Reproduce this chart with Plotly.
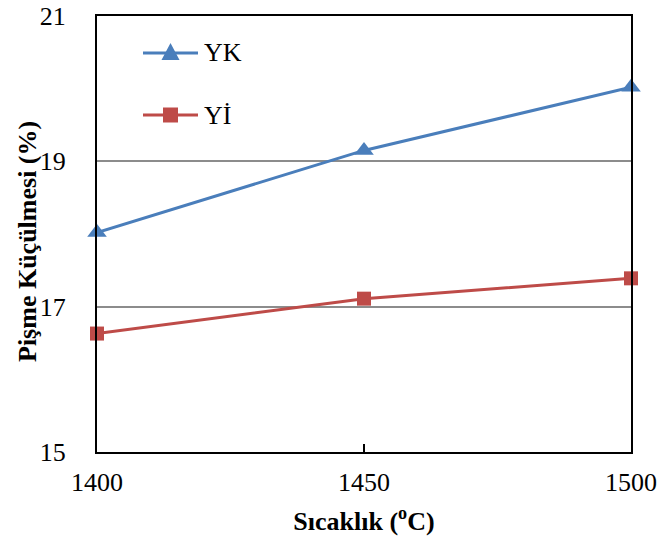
import plotly.graph_objects as go

# Firing temperature (°C) and firing shrinkage (%) for two body types
temperatures = [1400, 1450, 1500]
yk_shrinkage = [18.02, 19.15, 20.02]
yi_shrinkage = [16.63, 17.11, 17.39]
series_names = ["YK", "Yİ"]

x_ticks = [1400, 1450, 1500]
y_ticks = [15, 17, 19, 21]

FONT = "Liberation Serif, Times New Roman, serif"
BLUE = "#4a7ebb"
RED = "#be4b48"

W, H = 660, 540
M = dict(l=97, r=29, t=16, b=88)
PW = W - M["l"] - M["r"]
PH = H - M["t"] - M["b"]

fig = go.Figure()
fig.add_trace(go.Scatter(
    x=temperatures, y=yk_shrinkage, name=series_names[0],
    mode="lines+markers", cliponaxis=False, showlegend=False,
    line=dict(color=BLUE, width=3),
    marker=dict(symbol="triangle-up", size=17, color=BLUE),
))
fig.add_trace(go.Scatter(
    x=temperatures, y=yi_shrinkage, name=series_names[1],
    mode="lines+markers", cliponaxis=False, showlegend=False,
    line=dict(color=RED, width=3),
    marker=dict(symbol="square", size=14, color=RED),
))


# Legend key drawn in paper space (pixel offsets converted to paper units)
def px(dx):
    return dx / PW


def py(dy):
    return dy / PH


legend_x0, legend_x1 = px(46), px(101)
legend_rows = [(py(399), "triangle", BLUE, series_names[0]),
               (py(337), "square", RED, series_names[1])]
shapes = []
annotations = []
for yc, sym, col, label in legend_rows:
    xc = (legend_x0 + legend_x1) / 2
    shapes.append(dict(type="line", xref="paper", yref="paper",
                       x0=legend_x0, x1=legend_x1, y0=yc, y1=yc,
                       line=dict(color=col, width=3)))
    if sym == "triangle":
        path = (f"M {xc - px(9)},{yc - py(7)} L {xc + px(9)},{yc - py(7)} "
                f"L {xc},{yc + py(10)} Z")
        shapes.append(dict(type="path", xref="paper", yref="paper", path=path,
                           fillcolor=col, line=dict(color=col, width=0)))
    else:
        shapes.append(dict(type="rect", xref="paper", yref="paper",
                           x0=xc - px(7.5), x1=xc + px(7.5),
                           y0=yc - py(7.5), y1=yc + py(7.5),
                           fillcolor=col, line=dict(color=col, width=0)))
    annotations.append(dict(xref="paper", yref="paper", x=legend_x1 + px(4), y=yc,
                            xanchor="left", yanchor="middle", showarrow=False,
                            text=label, font=dict(family=FONT, size=26, color="black")))

# Vertical axis title
annotations.append(dict(xref="paper", yref="paper", x=-px(70), y=py(210),
                        xanchor="center", yanchor="middle", showarrow=False,
                        textangle=-90, text="<b>Pişme Küçülmesi (%)</b>",
                        font=dict(family=FONT, size=26, color="black")))

fig.update_layout(
    width=W, height=H,
    margin=M,
    paper_bgcolor="white", plot_bgcolor="white",
    font=dict(family=FONT, size=26, color="black"),
    showlegend=False,
    shapes=shapes,
    annotations=annotations,
    xaxis=dict(
        range=[1400, 1500], tickvals=x_ticks, automargin=False,
        ticks="inside", ticklen=8, tickwidth=2, tickcolor="black",
        showline=True, linecolor="black", linewidth=2, mirror=True,
        showgrid=False, zeroline=False,
        tickfont=dict(family=FONT, size=26),
        ticklabelstandoff=6,
        title=dict(text="<b>Sıcaklık (<sup>o</sup>C)</b>", font=dict(family=FONT, size=26), standoff=16),
    ),
    yaxis=dict(
        range=[15, 21], tickvals=y_ticks, automargin=False,
        ticks="", showline=True, linecolor="black", linewidth=2, mirror=True,
        showgrid=True, gridcolor="#8c8c8c", gridwidth=2, zeroline=False,
        tickfont=dict(family=FONT, size=26),
        ticklabelstandoff=24,
    ),
)

fig.write_html("out.html")
